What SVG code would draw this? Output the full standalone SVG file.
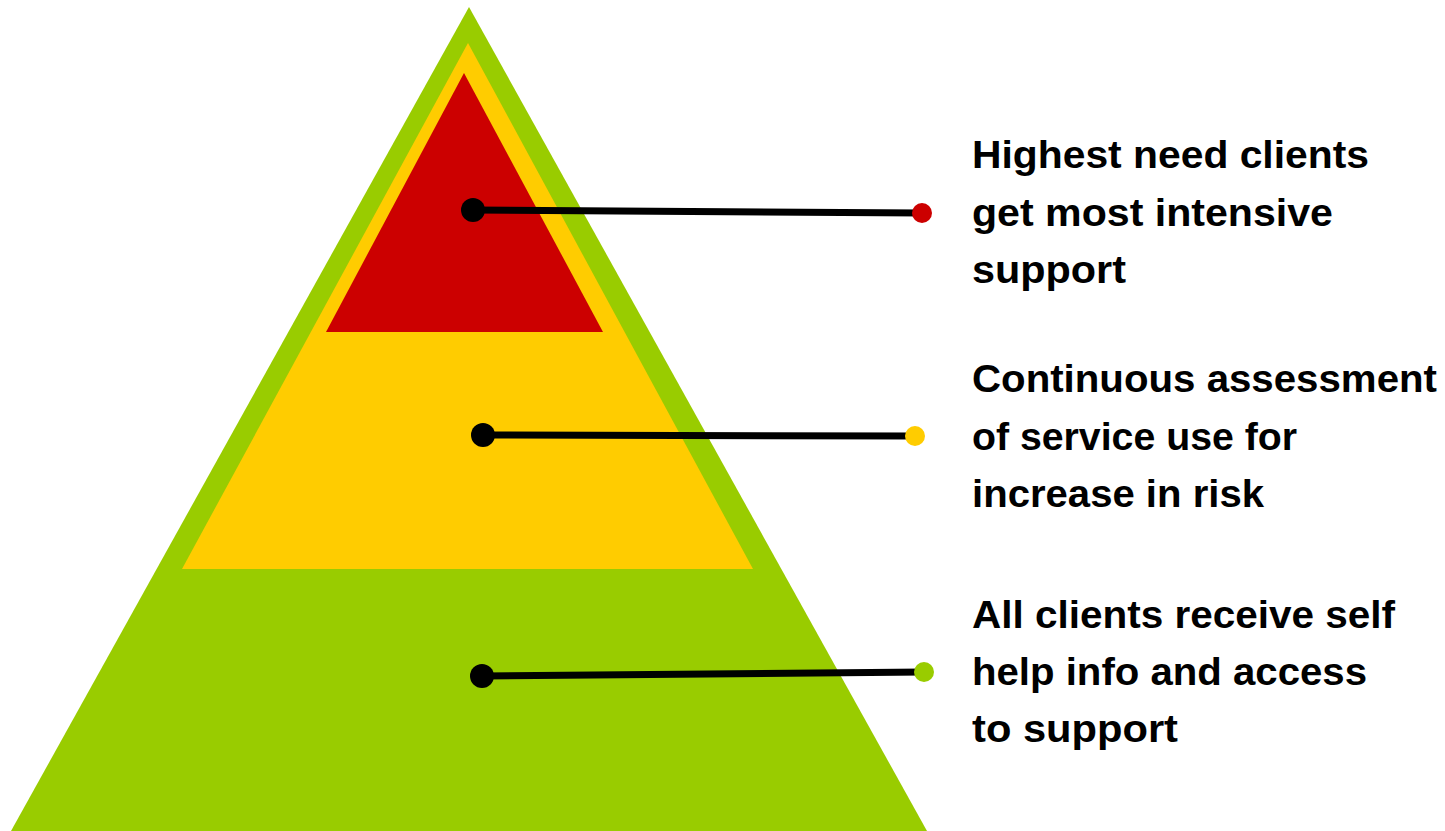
<svg xmlns="http://www.w3.org/2000/svg" width="1445" height="831" viewBox="0 0 1445 831">
<style>
.lbl{font-family:"Liberation Sans",Arial,sans-serif;font-weight:bold;font-size:38px;fill:#000}
.conn{stroke:#000;stroke-width:7;fill:none}
.end{fill:#000}
</style>
<rect width="1445" height="831" fill="#fff"/>
<g id="pyramid">
<polygon id="green" points="469,7 927,831 11,831" fill="#99CC00"/>
<polygon id="yellow" points="468,43 753,569 182,569" fill="#FFCC00"/>
<polygon id="red" points="464,73 603,332 326,332" fill="#CC0000"/>
</g>
<g id="connectors">
<line class="conn" x1="473" y1="210" x2="922" y2="213"/>
<circle class="end" cx="473" cy="210" r="12"/>
<circle cx="922" cy="213" r="10" fill="#CC0000"/>
<line class="conn" x1="483" y1="435" x2="915" y2="436"/>
<circle class="end" cx="483" cy="435" r="12"/>
<circle cx="915" cy="436" r="10" fill="#FFCC00"/>
<line class="conn" x1="482" y1="676" x2="924" y2="672"/>
<circle class="end" cx="482" cy="676" r="12"/>
<circle cx="924" cy="672" r="10" fill="#99CC00"/>
</g>
<g id="label-top">
<text class="lbl" x="972" y="168" textLength="397" lengthAdjust="spacingAndGlyphs">Highest need clients</text>
<text class="lbl" x="972" y="226" textLength="361" lengthAdjust="spacingAndGlyphs">get most intensive</text>
<text class="lbl" x="972" y="283" textLength="154" lengthAdjust="spacingAndGlyphs">support</text>
</g>
<g id="label-middle">
<text class="lbl" x="972" y="392" textLength="465" lengthAdjust="spacingAndGlyphs">Continuous assessment</text>
<text class="lbl" x="972" y="450" textLength="325" lengthAdjust="spacingAndGlyphs">of service use for</text>
<text class="lbl" x="972" y="507" textLength="292" lengthAdjust="spacingAndGlyphs">increase in risk</text>
</g>
<g id="label-bottom">
<text class="lbl" x="972" y="628" textLength="423" lengthAdjust="spacingAndGlyphs">All clients receive self</text>
<text class="lbl" x="972" y="685" textLength="395" lengthAdjust="spacingAndGlyphs">help info and access</text>
<text class="lbl" x="972" y="742" textLength="206" lengthAdjust="spacingAndGlyphs">to support</text>
</g>
</svg>
